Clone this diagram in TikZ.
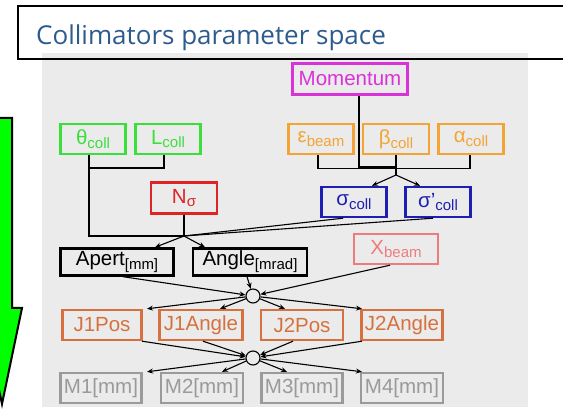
\documentclass[tikz,border=0pt]{standalone}
\usepackage{fontspec}
\setmainfont{Liberation Sans}
\newfontfamily\titlefont{Open Sans}
\usepackage{tikz}
\usetikzlibrary{arrows.meta}
\definecolor{bg}{HTML}{EBEBEB}
\definecolor{ttl}{HTML}{2D5B8E}
\definecolor{grn}{HTML}{3BDF3B}
\definecolor{rd}{HTML}{DE2424}
\definecolor{mag}{HTML}{D932D9}
\definecolor{org}{HTML}{F2A534}
\definecolor{blu}{HTML}{1E1EB4}
\definecolor{slm}{HTML}{EE7C7C}
\definecolor{jor}{HTML}{D6713F}
\definecolor{mgr}{HTML}{9A9A9A}
\definecolor{bigarr}{HTML}{00FF00}
\newcommand{\lo}[1]{\raisebox{-0.35ex}{\fontsize{15}{15}\selectfont #1}}

\begin{document}
\begin{tikzpicture}[x=1pt,y=-1pt,
  box/.style={draw, line width=2.4pt, font=\fontsize{20.5}{20.5}\selectfont, inner sep=0pt, minimum height=30pt},
  arr/.style={-{Stealth[length=6pt,width=5pt]}, line width=1.1pt},
  ln/.style={line width=1.1pt},
  hub/.style={circle, draw, line width=1.1pt, fill=bg, minimum size=14pt, inner sep=0pt}]
\useasboundingbox (0,0) rectangle (563,411);
\clip (0,0) rectangle (563,411);
\fill[bg] (42,53) rectangle (528,407);
\draw[line width=2pt] (18,6) rectangle (580,59);
\node[anchor=base west, inner sep=0pt, text=ttl, font=\titlefont\fontsize{26}{26}\selectfont] (T) at (36,45) {Collimators parameter space};
\draw[line width=2pt, fill=bigarr] (-8,118) -- (12,118) -- (12,308) -- (22,308) -- (2,404) -- (-18,308) -- (-8,308) -- cycle;
% inputs
\node[box, draw=grn, text=grn, minimum width=65pt] (th) at (93,139) {θ\lo{coll}};
\node[box, draw=grn, text=grn, minimum width=65pt] (Lc) at (168,139) {L\lo{coll}};
\node[box, draw=rd, text=rd, minimum width=66pt, minimum height=31pt] (Ns) at (184,198) {N\lo{σ}};
\node[box, draw=mag, text=mag, minimum width=115pt, minimum height=31pt] (Mom) at (350,79) {Momentum};
\node[box, draw=org, text=org, minimum width=65pt] (eb) at (321,139) {ε\lo{beam}};
\node[box, draw=org, text=org, minimum width=66pt] (bc) at (396,139) {β\lo{coll}};
\node[box, draw=org, text=org, minimum width=65pt] (ac) at (471,139) {α\lo{coll}};
\node[box, draw=blu, text=blu, minimum width=65pt] (sc) at (354,202) {σ\lo{coll}};
\node[box, draw=blu, text=blu, minimum width=65pt] (sp) at (438,202) {σ'\lo{coll}};
\node[box, minimum width=113pt, minimum height=27pt] (Ap) at (117,262) {Apert\lo{[mm]}};
\node[box, minimum width=114pt, minimum height=27pt] (An) at (250,262) {Angle\lo{[mrad]}};
\node[box, draw=slm, text=slm, minimum width=84pt] (Xb) at (396,249) {X\lo{beam}};
% jaws and motors
\node[hub] (c1) at (253,296) {};
\node[box, draw=jor, text=jor, minimum width=79pt] (J1P) at (102,325) {J1Pos};
\node[box, draw=jor, text=jor, minimum width=83pt] (J1A) at (201,325) {J1Angle};
\node[box, draw=jor, text=jor, minimum width=82pt] (J2P) at (302,325) {J2Pos};
\node[box, draw=jor, text=jor, minimum width=81pt] (J2A) at (402,325) {J2Angle};
\node[hub] (c2) at (253,358) {};
\node[box, draw=mgr, text=mgr, minimum width=81pt] (M1) at (101,388) {M1[mm]};
\node[box, draw=mgr, text=mgr, minimum width=82pt] (M2) at (202,388) {M2[mm]};
\node[box, draw=mgr, text=mgr, minimum width=81pt] (M3) at (302,388) {M3[mm]};
\node[box, draw=mgr, text=mgr, minimum width=82pt] (M4) at (402,388) {M4[mm]};
\coordinate (kA) at (89,168);
\coordinate (jA) at (184,236);
\coordinate (kB) at (396,167);
\coordinate (jB) at (396,175);
\draw[ln] ([xshift=-4pt]Lc.south) |- (kA); \draw[ln] ([xshift=-4pt]th.south) |- (jA);
\draw[ln] (Ns.south) -- (jA);
\draw[ln] ([xshift=-11pt]sc.south) -- (jA); \draw[ln] ([xshift=-5pt]sp.south) -- (jA);
\draw[arr] (jA) -- ([xshift=38pt]Ap.north); \draw[arr] (jA) -- ([xshift=-45pt]An.north);
\draw[ln] ([xshift=-3pt]eb.south) -- ++(0,13) -| ([xshift=-1pt]ac.south);
\draw[ln] ([xshift=9pt]Mom.south) |- (kB);
\draw[ln] (bc.south) -- (jB);
\draw[arr] (jB) -- ([xshift=18pt]sc.north); \draw[arr] (jB) -- ([xshift=-18pt]sp.north);
\draw[arr] ([xshift=6pt]Ap.south) -- (c1); \draw[arr] ([xshift=-3pt]An.south) -- (c1);
\draw[arr] ([xshift=-6pt]Xb.south) -- (c1);
\draw[arr] (c1) -- ([xshift=45pt]J1P.north); \draw[arr] (c1) -- ([xshift=19pt]J1A.north);
\draw[arr] (c1) -- ([xshift=-17pt]J2P.north); \draw[arr] (c1) -- ([xshift=-40pt]J2A.north);
\draw[arr] ([xshift=40pt]J1P.south) -- (c2); \draw[arr] ([xshift=2pt]J1A.south) -- (c2);
\draw[arr] ([xshift=-9pt]J2P.south) -- (c2); \draw[arr] ([xshift=-40pt]J2A.south) -- (c2);
\draw[arr] (c2) -- ([xshift=46pt]M1.north); \draw[arr] (c2) -- ([xshift=20pt]M2.north);
\draw[arr] (c2) -- ([xshift=-15pt]M3.north); \draw[arr] (c2) -- ([xshift=-40pt]M4.north);
\end{tikzpicture}
\end{document}
